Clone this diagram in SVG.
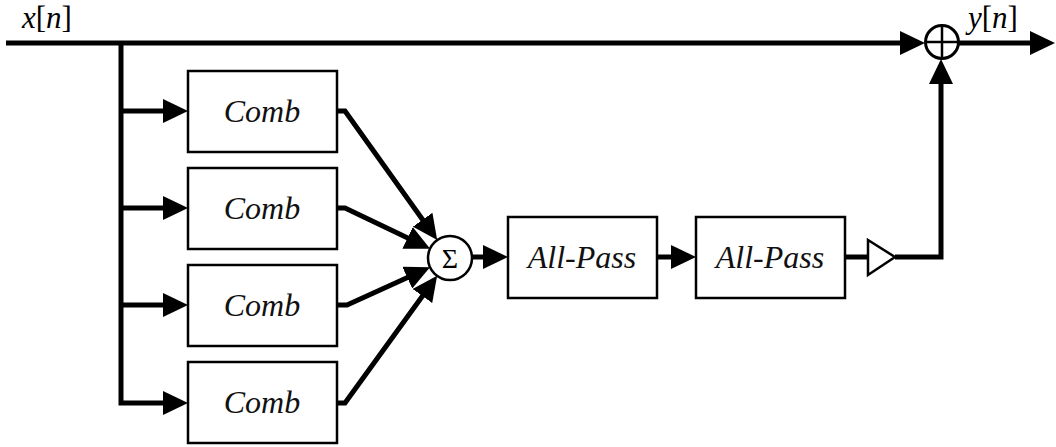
<svg xmlns="http://www.w3.org/2000/svg" width="1056" height="447" viewBox="0 0 1056 447">
  <style>
    .wire { fill: none; stroke: #000; stroke-width: 5; stroke-linejoin: miter; }
    .box { fill: #fff; stroke: #000; stroke-width: 2.5; }
    .serif { font-family: "Liberation Serif", "Times New Roman", serif; }
    .lbl { font-style: italic; font-size: 32px; fill: #111; text-anchor: middle; }
    .sig { font-size: 31px; fill: #000; }
    .it { font-style: italic; }
  </style>
  <defs>
    <!-- filled arrowhead, tip sits 12px past the end of the wire -->
    <marker id="arrow" markerUnits="userSpaceOnUse" markerWidth="25" markerHeight="24" refX="13" refY="12" orient="auto">
      <path d="M0,0 L25,12 L0,24 Z" fill="#000"/>
    </marker>
  </defs>

  <!-- signal labels -->
  <text class="serif sig" x="22" y="28"><tspan class="it">x</tspan>[<tspan class="it">n</tspan>]</text>
  <text class="serif sig" x="968" y="28"><tspan class="it">y</tspan>[<tspan class="it">n</tspan>]</text>

  <g id="connectors">
    <!-- dry path straight to the output adder -->
    <path class="wire" d="M6,43 H913" marker-end="url(#arrow)"/>
    <!-- output -->
    <path class="wire" d="M959,43 H1043" marker-end="url(#arrow)"/>
    <!-- feed to the comb bank -->
    <path class="wire" d="M121,43 V403 H176" marker-end="url(#arrow)"/>
    <path class="wire" d="M121,111 H176" marker-end="url(#arrow)"/>
    <path class="wire" d="M121,208 H176" marker-end="url(#arrow)"/>
    <path class="wire" d="M121,305 H176" marker-end="url(#arrow)"/>
    <!-- comb outputs into the summer -->
    <path class="wire" d="M337,111 H345 L430.2,230.3" marker-end="url(#arrow)"/>
    <path class="wire" d="M337,208 H345 L419.3,243.5" marker-end="url(#arrow)"/>
    <path class="wire" d="M337,305 H347 L419.1,272.2" marker-end="url(#arrow)"/>
    <path class="wire" d="M337,403 H345 L430.1,285.5" marker-end="url(#arrow)"/>
    <!-- all-pass chain -->
    <path class="wire" d="M472,257 H496" marker-end="url(#arrow)"/>
    <path class="wire" d="M657,257 H684" marker-end="url(#arrow)"/>
    <path class="wire" d="M845,257 H868"/>
    <!-- wet path up to the adder -->
    <path class="wire" d="M895,257 H941 V71" marker-end="url(#arrow)"/>
  </g>

  <g id="comb1"><rect class="box" x="188" y="71" width="149" height="81"/><text class="serif lbl" x="262" y="122">Comb</text></g>
  <g id="comb2"><rect class="box" x="188" y="168" width="149" height="81"/><text class="serif lbl" x="262" y="219">Comb</text></g>
  <g id="comb3"><rect class="box" x="188" y="265" width="149" height="81"/><text class="serif lbl" x="262" y="316">Comb</text></g>
  <g id="comb4"><rect class="box" x="188" y="362" width="149" height="81"/><text class="serif lbl" x="262" y="413">Comb</text></g>

  <g id="summer">
    <circle cx="450" cy="258" r="22" fill="#fff" stroke="#000" stroke-width="2.5"/>
    <text class="serif" x="450" y="268" font-size="28" text-anchor="middle" fill="#000">Σ</text>
  </g>

  <g id="allpass1"><rect class="box" x="508" y="217" width="149" height="81"/><text class="serif lbl" x="582" y="268">All-Pass</text></g>
  <g id="allpass2"><rect class="box" x="696" y="217" width="149" height="81"/><text class="serif lbl" x="770" y="268">All-Pass</text></g>

  <g id="gain">
    <path d="M868,240 L895,257 L868,275 Z" fill="#fff" stroke="#000" stroke-width="2.5"/>
  </g>

  <g id="adder">
    <circle cx="942" cy="42" r="16.5" fill="#fff" stroke="#000" stroke-width="3"/>
    <path d="M942,25.5 V58.5 M925.5,42 H958.5" stroke="#000" stroke-width="2.5"/>
  </g>
</svg>
